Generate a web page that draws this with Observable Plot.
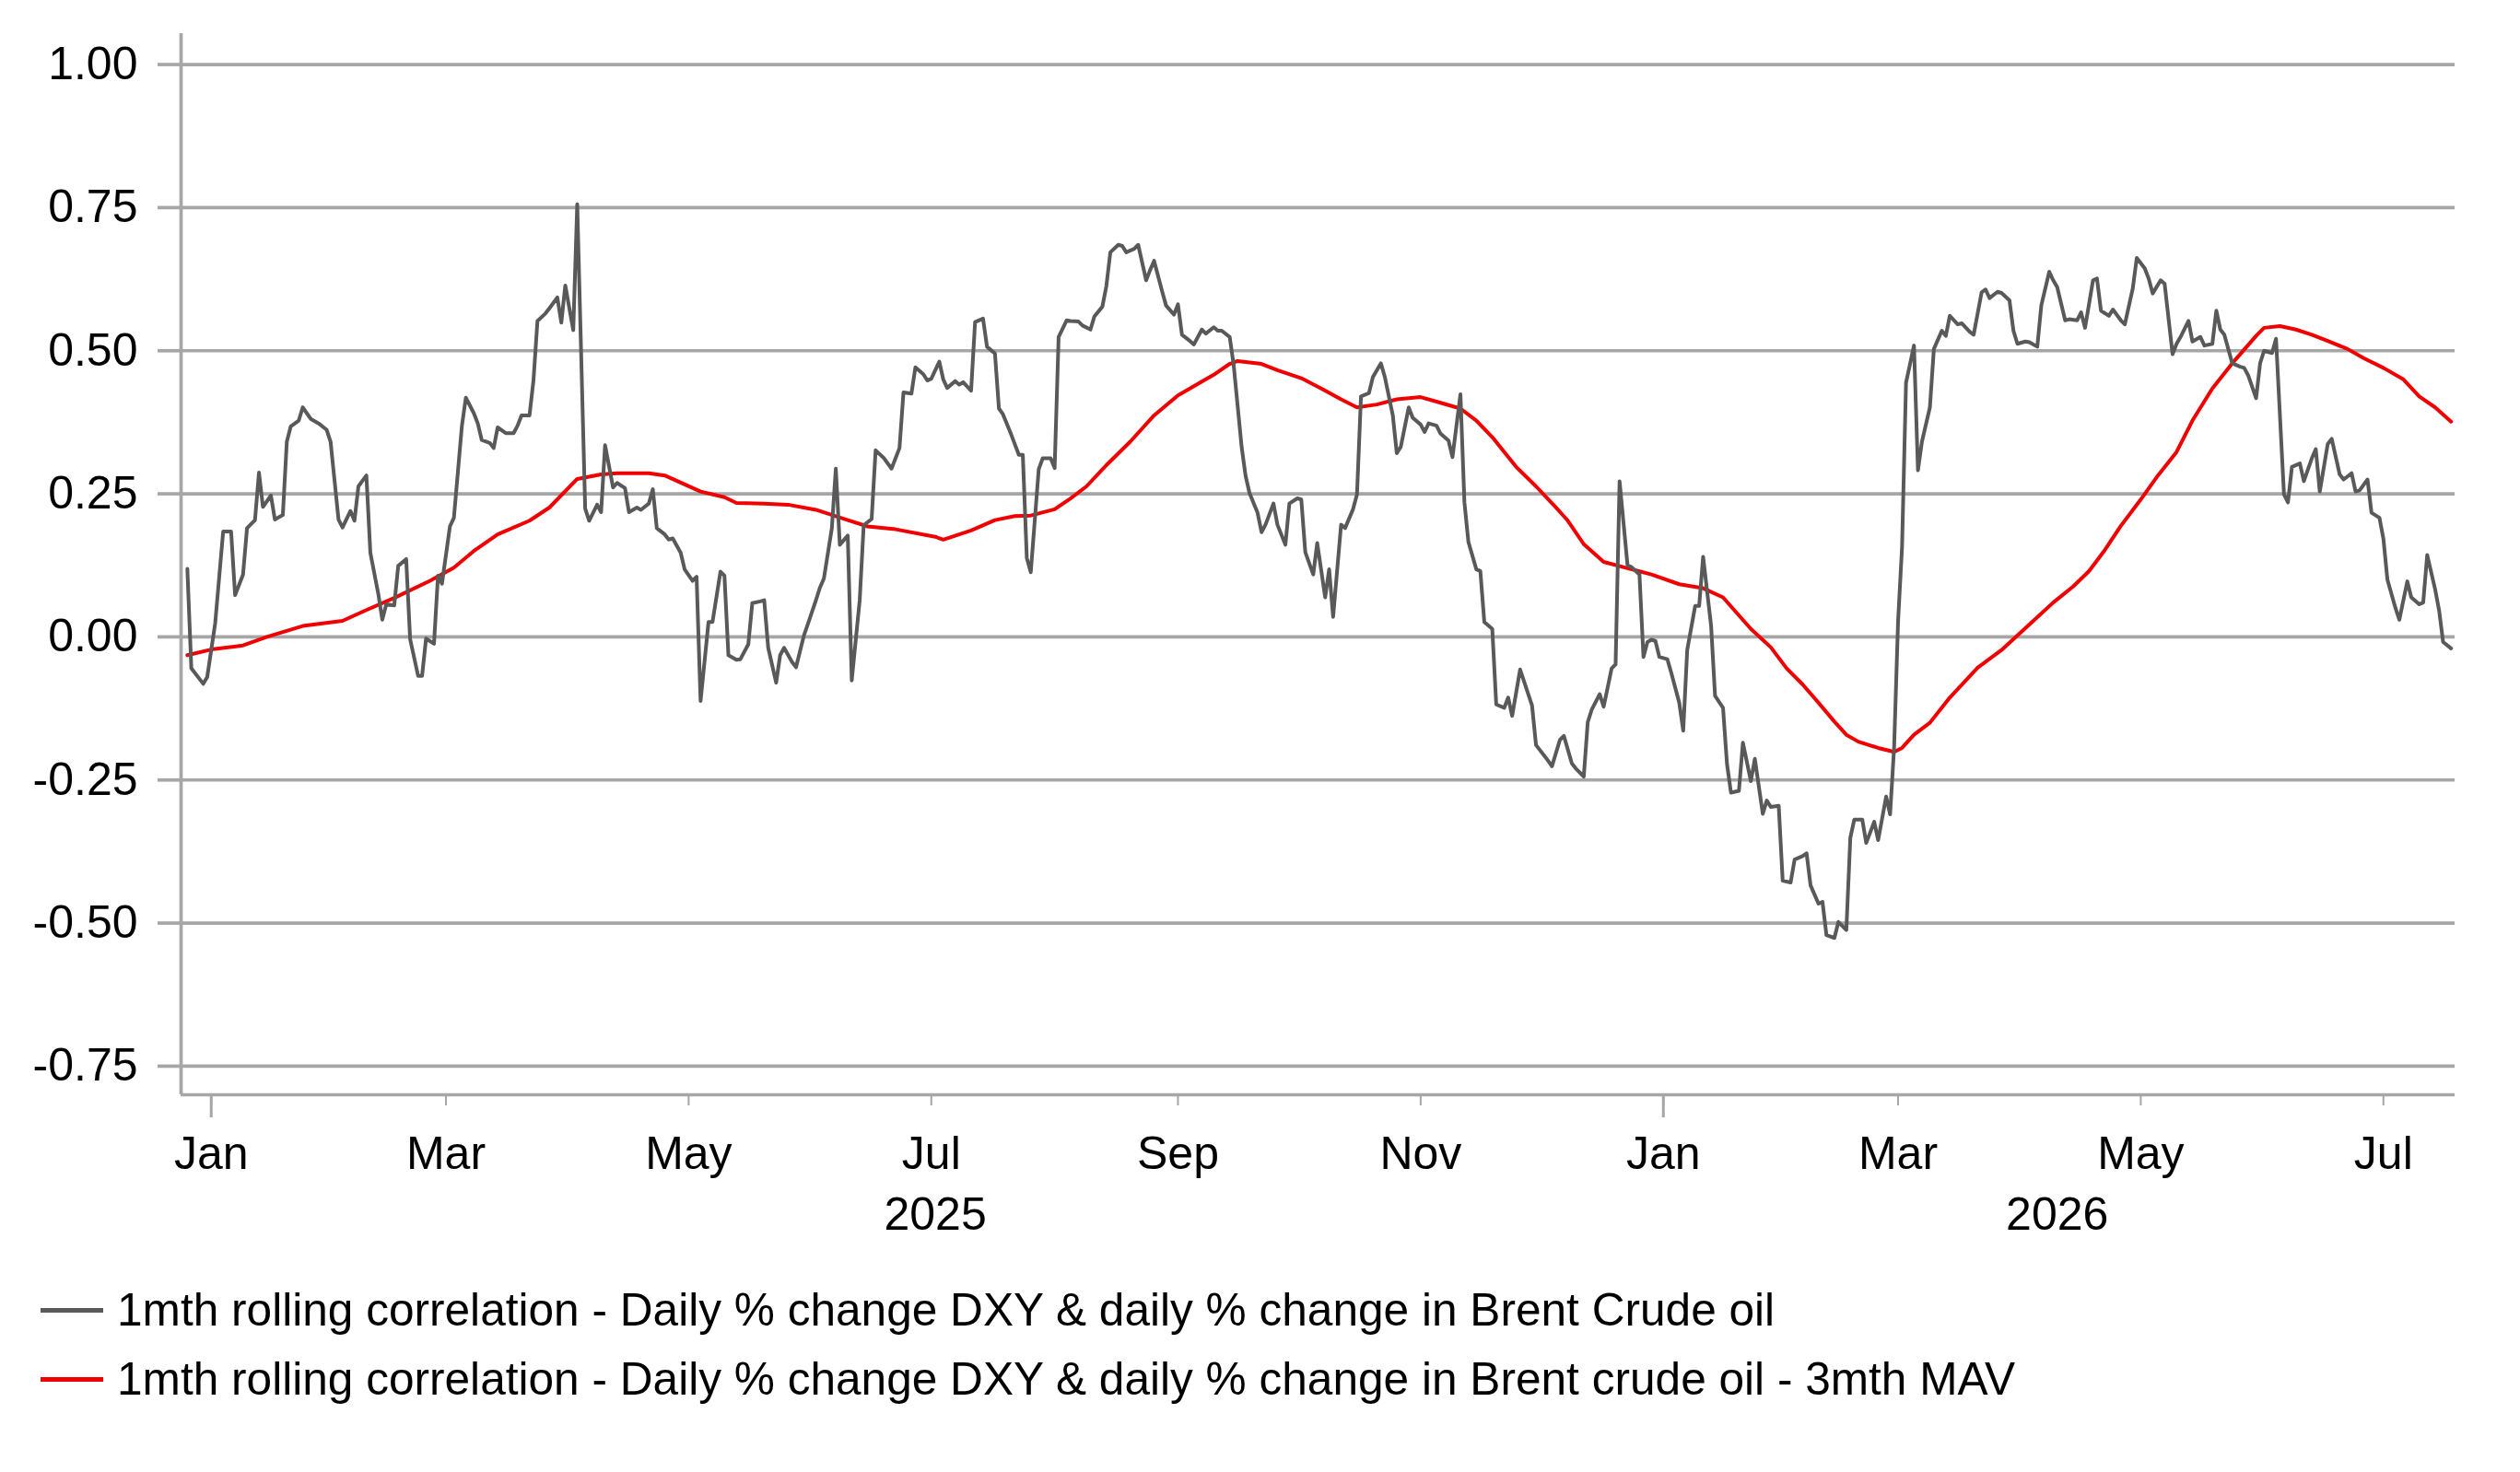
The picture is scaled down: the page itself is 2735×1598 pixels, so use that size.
<!DOCTYPE html>
<html><head><meta charset="utf-8">
<script src="https://cdn.jsdelivr.net/npm/d3@7"></script>
<script src="https://cdn.jsdelivr.net/npm/@observablehq/plot@0.6"></script>
<style>
html,body{margin:0;padding:0;background:#fff;}
body{width:2735px;height:1598px;position:relative;overflow:hidden;font-family:"Liberation Sans",Arial,sans-serif;}
#chart svg{display:block;}
#legend{position:absolute;left:0;top:1385px;font-size:49.6px;color:#000;}
.row{position:relative;height:75px;line-height:75px;white-space:nowrap;padding-left:127px;}
.sw{position:absolute;left:44px;top:35px;width:68px;height:5px;}
</style></head><body>
<div id="chart"></div>
<div id="legend"></div>
<script>
// ---- data ----
const seriesNames = [
  "1mth rolling correlation - Daily % change DXY & daily % change in Brent Crude oil",
  "1mth rolling correlation - Daily % change DXY & daily % change in Brent crude oil - 3mth MAV"
];
const seriesColors = ["#595959", "#f00000"];
const yTicks = [-0.75, -0.5, -0.25, 0, 0.25, 0.5, 0.75, 1.0];
const yDomain = [-0.80, 1.054];
const xDomain = ["2024-12-24T10:00:00Z", "2026-07-19T00:00:00Z"];
const monthTickDates = ["2025-01-01","2025-03-01","2025-05-01","2025-07-01","2025-09-01","2025-11-01","2026-01-01","2026-03-01","2026-05-01","2026-07-01"];
const monthLabels = ["Jan","Mar","May","Jul","Sep","Nov","Jan","Mar","May","Jul"];
const yearTickDates = ["2025-01-01","2026-01-01"];
const yearLabelDates = ["2025-07-02","2026-04-10"];
const yearLabels = ["2025","2026"];

const dailyCorr = [
["2024-12-26",0.119],["2024-12-27",-0.055],["2024-12-30",-0.082],["2024-12-31",-0.070],
["2025-01-02",0.024],["2025-01-04",0.184],["2025-01-06",0.184],["2025-01-07",0.073],["2025-01-09",0.109],["2025-01-10",0.190],
["2025-01-12",0.204],["2025-01-13",0.287],["2025-01-14",0.227],["2025-01-16",0.247],["2025-01-17",0.205],["2025-01-19",0.213],
["2025-01-20",0.341],["2025-01-21",0.368],["2025-01-23",0.378],["2025-01-24",0.401],["2025-01-26",0.381],["2025-01-28",0.373],
["2025-01-30",0.362],["2025-01-31",0.341],["2025-02-02",0.205],["2025-02-03",0.191],["2025-02-05",0.220],["2025-02-06",0.203],
["2025-02-07",0.263],["2025-02-09",0.282],["2025-02-10",0.147],["2025-02-12",0.075],["2025-02-13",0.030],["2025-02-14",0.057],
["2025-02-16",0.055],["2025-02-17",0.124],["2025-02-19",0.136],["2025-02-20",-0.004],["2025-02-22",-0.068],["2025-02-23",-0.068],
["2025-02-24",-0.003],["2025-02-26",-0.012],["2025-02-27",0.107],["2025-02-28",0.093],["2025-03-02",0.193],["2025-03-03",0.208],
["2025-03-05",0.368],["2025-03-06",0.418],["2025-03-08",0.391],["2025-03-09",0.373],["2025-03-10",0.344],["2025-03-12",0.339],
["2025-03-13",0.330],["2025-03-14",0.366],["2025-03-16",0.356],["2025-03-18",0.356],["2025-03-19",0.369],["2025-03-20",0.387],
["2025-03-22",0.387],["2025-03-23",0.448],["2025-03-24",0.552],["2025-03-26",0.565],["2025-03-27",0.574],["2025-03-29",0.593],
["2025-03-30",0.549],["2025-03-31",0.614],["2025-04-02",0.536],["2025-04-03",0.756],["2025-04-05",0.224],["2025-04-06",0.203],
["2025-04-08",0.231],["2025-04-09",0.218],["2025-04-10",0.335],["2025-04-12",0.261],["2025-04-13",0.269],["2025-04-15",0.260],
["2025-04-16",0.218],["2025-04-18",0.226],["2025-04-19",0.222],["2025-04-21",0.233],["2025-04-22",0.258],["2025-04-23",0.190],
["2025-04-25",0.179],["2025-04-26",0.170],["2025-04-27",0.172],["2025-04-29",0.147],["2025-04-30",0.118],["2025-05-02",0.098],
["2025-05-03",0.105],["2025-05-04",-0.112],["2025-05-06",0.026],["2025-05-07",0.026],["2025-05-09",0.114],["2025-05-10",0.107],
["2025-05-11",-0.032],["2025-05-13",-0.040],["2025-05-14",-0.039],["2025-05-16",-0.013],["2025-05-17",0.059],["2025-05-19",0.062],
["2025-05-20",0.064],["2025-05-21",-0.019],["2025-05-23",-0.080],["2025-05-24",-0.032],["2025-05-25",-0.019],["2025-05-27",-0.044],
["2025-05-28",-0.053],["2025-05-30",0.003],["2025-05-31",0.023],["2025-06-02",0.064],["2025-06-03",0.086],["2025-06-04",0.102],
["2025-06-06",0.190],["2025-06-07",0.294],["2025-06-08",0.161],["2025-06-10",0.177],["2025-06-11",-0.076],["2025-06-13",0.064],
["2025-06-14",0.195],["2025-06-16",0.206],["2025-06-17",0.326],["2025-06-19",0.313],["2025-06-21",0.294],["2025-06-23",0.330],
["2025-06-24",0.427],["2025-06-26",0.425],["2025-06-27",0.471],["2025-06-29",0.459],["2025-06-30",0.448],["2025-07-01",0.451],
["2025-07-03",0.481],["2025-07-04",0.450],["2025-07-05",0.435],["2025-07-07",0.447],["2025-07-08",0.441],["2025-07-09",0.445],
["2025-07-11",0.430],["2025-07-12",0.550],["2025-07-14",0.556],["2025-07-15",0.507],["2025-07-17",0.495],["2025-07-18",0.399],
["2025-07-19",0.389],["2025-07-21",0.355],["2025-07-23",0.318],["2025-07-24",0.318],["2025-07-25",0.138],["2025-07-26",0.113],
["2025-07-28",0.293],["2025-07-29",0.312],["2025-07-31",0.312],["2025-08-01",0.295],["2025-08-02",0.524],["2025-08-04",0.553],
["2025-08-05",0.552],["2025-08-07",0.551],["2025-08-08",0.544],["2025-08-10",0.537],["2025-08-11",0.560],["2025-08-13",0.577],
["2025-08-14",0.613],["2025-08-15",0.672],["2025-08-17",0.685],["2025-08-18",0.683],["2025-08-19",0.672],["2025-08-21",0.678],
["2025-08-22",0.685],["2025-08-24",0.623],["2025-08-25",0.641],["2025-08-26",0.657],["2025-08-28",0.604],["2025-08-29",0.579],
["2025-08-31",0.563],["2025-09-01",0.581],["2025-09-02",0.528],["2025-09-04",0.517],["2025-09-05",0.511],["2025-09-07",0.537],
["2025-09-08",0.530],["2025-09-10",0.541],["2025-09-11",0.535],["2025-09-12",0.535],["2025-09-14",0.524],["2025-09-15",0.475],
["2025-09-17",0.332],["2025-09-18",0.281],["2025-09-19",0.251],["2025-09-21",0.217],["2025-09-22",0.183],["2025-09-23",0.196],
["2025-09-25",0.233],["2025-09-26",0.196],["2025-09-28",0.161],["2025-09-29",0.233],["2025-10-01",0.242],["2025-10-02",0.240],
["2025-10-03",0.148],["2025-10-05",0.109],["2025-10-06",0.164],["2025-10-08",0.069],["2025-10-09",0.118],["2025-10-10",0.035],
["2025-10-12",0.196],["2025-10-13",0.190],["2025-10-15",0.223],["2025-10-16",0.249],["2025-10-17",0.420],["2025-10-19",0.426],
["2025-10-20",0.454],["2025-10-22",0.478],["2025-10-23",0.454],["2025-10-25",0.387],["2025-10-26",0.321],["2025-10-27",0.332],
["2025-10-29",0.401],["2025-10-30",0.383],["2025-11-01",0.371],["2025-11-02",0.358],["2025-11-03",0.373],["2025-11-05",0.369],
["2025-11-06",0.355],["2025-11-08",0.343],["2025-11-09",0.314],["2025-11-11",0.424],["2025-11-12",0.235],["2025-11-13",0.166],
["2025-11-15",0.118],["2025-11-16",0.115],["2025-11-17",0.026],["2025-11-19",0.014],["2025-11-20",-0.118],["2025-11-22",-0.124],
["2025-11-23",-0.106],["2025-11-24",-0.138],["2025-11-26",-0.057],["2025-11-27",-0.078],["2025-11-29",-0.120],["2025-11-30",-0.189],
["2025-12-02",-0.207],["2025-12-03",-0.216],["2025-12-04",-0.226],["2025-12-06",-0.180],["2025-12-07",-0.173],["2025-12-09",-0.221],
["2025-12-10",-0.230],["2025-12-12",-0.244],["2025-12-13",-0.149],["2025-12-14",-0.127],["2025-12-16",-0.100],["2025-12-17",-0.122],
["2025-12-19",-0.055],["2025-12-20",-0.048],["2025-12-21",0.272],["2025-12-23",0.125],["2025-12-24",0.122],["2025-12-26",0.109],
["2025-12-27",-0.035],["2025-12-28",-0.009],["2025-12-29",-0.005],["2025-12-30",-0.007],["2025-12-31",-0.035],["2026-01-02",-0.039],
["2026-01-03",-0.063],["2026-01-05",-0.115],["2026-01-06",-0.164],["2026-01-07",-0.023],["2026-01-09",0.054],["2026-01-10",0.054],
["2026-01-11",0.140],["2026-01-13",0.020],["2026-01-14",-0.103],["2026-01-16",-0.124],["2026-01-17",-0.222],["2026-01-18",-0.272],
["2026-01-20",-0.269],["2026-01-21",-0.185],["2026-01-23",-0.252],["2026-01-24",-0.213],["2026-01-26",-0.309],["2026-01-27",-0.286],
["2026-01-28",-0.297],["2026-01-30",-0.295],["2026-01-31",-0.426],["2026-02-02",-0.429],["2026-02-03",-0.389],["2026-02-05",-0.383],
["2026-02-06",-0.378],["2026-02-07",-0.434],["2026-02-09",-0.466],["2026-02-10",-0.463],["2026-02-11",-0.521],["2026-02-13",-0.526],
["2026-02-14",-0.498],["2026-02-16",-0.512],["2026-02-17",-0.351],["2026-02-18",-0.319],["2026-02-20",-0.319],["2026-02-21",-0.360],
["2026-02-23",-0.323],["2026-02-24",-0.355],["2026-02-26",-0.279],["2026-02-27",-0.310],["2026-02-28",-0.194],["2026-03-01",0.027],
["2026-03-02",0.157],["2026-03-03",0.444],["2026-03-05",0.509],["2026-03-06",0.291],["2026-03-07",0.341],["2026-03-09",0.401],
["2026-03-10",0.503],["2026-03-12",0.535],["2026-03-13",0.526],["2026-03-14",0.561],["2026-03-16",0.546],["2026-03-17",0.548],
["2026-03-19",0.533],["2026-03-20",0.528],["2026-03-22",0.602],["2026-03-23",0.607],["2026-03-24",0.592],["2026-03-26",0.603],
["2026-03-27",0.601],["2026-03-29",0.588],["2026-03-30",0.535],["2026-03-31",0.512],["2026-04-02",0.516],["2026-04-03",0.515],
["2026-04-05",0.507],["2026-04-06",0.579],["2026-04-08",0.638],["2026-04-09",0.623],["2026-04-10",0.611],["2026-04-12",0.553],
["2026-04-13",0.555],["2026-04-15",0.553],["2026-04-16",0.567],["2026-04-17",0.540],["2026-04-19",0.623],["2026-04-20",0.626],
["2026-04-21",0.570],["2026-04-23",0.561],["2026-04-24",0.572],["2026-04-26",0.553],["2026-04-27",0.546],["2026-04-29",0.609],
["2026-04-30",0.662],["2026-05-02",0.644],["2026-05-03",0.626],["2026-05-04",0.600],["2026-05-06",0.623],["2026-05-07",0.617],
["2026-05-09",0.494],["2026-05-10",0.512],["2026-05-11",0.524],["2026-05-13",0.552],["2026-05-14",0.516],["2026-05-16",0.524],
["2026-05-17",0.509],["2026-05-19",0.512],["2026-05-20",0.570],["2026-05-21",0.537],["2026-05-22",0.528],["2026-05-24",0.478],
["2026-05-26",0.472],["2026-05-27",0.470],["2026-05-28",0.457],["2026-05-30",0.417],["2026-05-31",0.478],["2026-06-01",0.500],
["2026-06-03",0.496],["2026-06-04",0.521],["2026-06-06",0.249],["2026-06-07",0.235],["2026-06-08",0.297],["2026-06-10",0.303],
["2026-06-11",0.272],["2026-06-13",0.312],["2026-06-14",0.328],["2026-06-15",0.254],["2026-06-17",0.337],["2026-06-18",0.346],
["2026-06-20",0.284],["2026-06-21",0.275],["2026-06-23",0.286],["2026-06-24",0.254],["2026-06-25",0.256],["2026-06-27",0.275],
["2026-06-28",0.217],["2026-06-30",0.208],["2026-07-01",0.171],["2026-07-02",0.100],["2026-07-04",0.051],["2026-07-05",0.030],
["2026-07-07",0.097],["2026-07-08",0.069],["2026-07-10",0.057],["2026-07-11",0.060],["2026-07-12",0.143],["2026-07-14",0.083],
["2026-07-15",0.046],["2026-07-16",-0.009],["2026-07-18",-0.020]
];

const movingAvg = [
["2024-12-26",-0.032],["2025-01-01",-0.022],["2025-01-09",-0.015],["2025-01-15",0.000],["2025-01-24",0.019],["2025-02-03",0.028],
["2025-02-09",0.047],["2025-02-16",0.068],["2025-02-25",0.098],["2025-03-03",0.121],["2025-03-08",0.150],["2025-03-14",0.179],
["2025-03-22",0.203],["2025-03-27",0.226],["2025-04-03",0.276],["2025-04-09",0.284],["2025-04-13",0.286],["2025-04-21",0.286],
["2025-04-25",0.282],["2025-05-04",0.254],["2025-05-10",0.244],["2025-05-13",0.234],["2025-05-20",0.233],["2025-05-26",0.231],
["2025-06-02",0.222],["2025-06-10",0.204],["2025-06-15",0.193],["2025-06-22",0.188],["2025-07-02",0.175],["2025-07-04",0.170],
["2025-07-11",0.186],["2025-07-17",0.204],["2025-07-22",0.211],["2025-07-26",0.212],["2025-08-01",0.223],["2025-08-05",0.242],
["2025-08-09",0.263],["2025-08-14",0.300],["2025-08-20",0.341],["2025-08-26",0.387],["2025-09-01",0.422],["2025-09-06",0.442],
["2025-09-10",0.458],["2025-09-14",0.477],["2025-09-16",0.482],["2025-09-22",0.477],["2025-09-26",0.466],["2025-10-02",0.452],
["2025-10-07",0.434],["2025-10-12",0.415],["2025-10-16",0.401],["2025-10-21",0.406],["2025-10-26",0.415],["2025-11-01",0.419],
["2025-11-05",0.411],["2025-11-11",0.399],["2025-11-15",0.378],["2025-11-19",0.349],["2025-11-25",0.297],["2025-11-30",0.263],
["2025-12-05",0.226],["2025-12-08",0.203],["2025-12-12",0.162],["2025-12-17",0.131],["2025-12-23",0.120],["2025-12-29",0.109],
["2026-01-05",0.092],["2026-01-11",0.085],["2026-01-16",0.069],["2026-01-23",0.014],["2026-01-28",-0.018],["2026-02-01",-0.055],
["2026-02-05",-0.083],["2026-02-09",-0.115],["2026-02-13",-0.148],["2026-02-16",-0.171],["2026-02-19",-0.183],["2026-02-24",-0.194],
["2026-02-28",-0.201],["2026-03-02",-0.194],["2026-03-05",-0.171],["2026-03-09",-0.150],["2026-03-14",-0.106],["2026-03-21",-0.054],
["2026-03-27",-0.023],["2026-04-04",0.028],["2026-04-09",0.060],["2026-04-14",0.088],["2026-04-18",0.115],["2026-04-22",0.152],
["2026-04-26",0.194],["2026-05-01",0.240],["2026-05-05",0.279],["2026-05-10",0.323],["2026-05-14",0.378],["2026-05-19",0.434],
["2026-05-24",0.478],["2026-05-30",0.526],["2026-06-01",0.540],["2026-06-05",0.543],["2026-06-09",0.537],["2026-06-13",0.528],
["2026-06-17",0.517],["2026-06-22",0.503],["2026-06-26",0.487],["2026-07-01",0.470],["2026-07-06",0.450],["2026-07-10",0.420],
["2026-07-14",0.401],["2026-07-18",0.376]
];

// ---- chart ----
const parse = d3.utcParse("%Y-%m-%d");
const rows = arr => arr.map(([d, v]) => ({date: parse(d), value: v}));
const dates = arr => arr.map(parse);
const grid = "#a6a6a6";
const font = "'Liberation Sans', Arial, Helvetica, sans-serif";

const chart = Plot.plot({
  width: 2735,
  height: 1380,
  marginLeft: 196,
  marginRight: 71,
  marginTop: 36,
  marginBottom: 192,
  style: {fontFamily: font, background: "#fff", color: "#000", overflow: "visible"},
  x: {type: "utc", domain: xDomain.map(d => new Date(d))},
  y: {domain: yDomain},
  marks: [
    Plot.ruleY(yTicks, {stroke: grid, strokeWidth: 3.7}),
    Plot.ruleY([yDomain[0]], {stroke: grid, strokeWidth: 3.7}),
    Plot.ruleX([new Date(xDomain[0])], {stroke: grid, strokeWidth: 3.7}),
    Plot.axisY(yTicks, {tickSize: 25, tickPadding: 22, tickFormat: d => d.toFixed(2), fontSize: 50, stroke: grid, strokeWidth: 3.7, fill: "#000", label: null}),
    Plot.axisX(dates(monthTickDates), {tickSize: 12, tickFormat: () => "", stroke: grid, strokeWidth: 2, label: null}),
    Plot.axisX(dates(yearTickDates), {tickSize: 25, tickFormat: () => "", stroke: grid, strokeWidth: 3, label: null}),
    Plot.text(dates(monthTickDates), {x: d => d, text: (d, i) => monthLabels[i], frameAnchor: "bottom", dy: 80, lineAnchor: "bottom", fontSize: 50, fill: "#000"}),
    Plot.text(dates(yearLabelDates), {x: d => d, text: (d, i) => yearLabels[i], frameAnchor: "bottom", dy: 146, lineAnchor: "bottom", fontSize: 50, fill: "#000"}),
    Plot.lineY(rows(movingAvg), {x: "date", y: "value", stroke: seriesColors[1], strokeWidth: 4, strokeLinejoin: "round"}),
    Plot.lineY(rows(dailyCorr), {x: "date", y: "value", stroke: seriesColors[0], strokeWidth: 4, strokeLinejoin: "round"})
  ]
});
document.getElementById("chart").append(chart);

const legend = document.getElementById("legend");
seriesNames.forEach((name, i) => {
  const row = document.createElement("div");
  row.className = "row";
  const sw = document.createElement("span");
  sw.className = "sw";
  sw.style.background = seriesColors[i];
  row.append(sw, document.createTextNode(name));
  legend.append(row);
});
</script></body></html>
